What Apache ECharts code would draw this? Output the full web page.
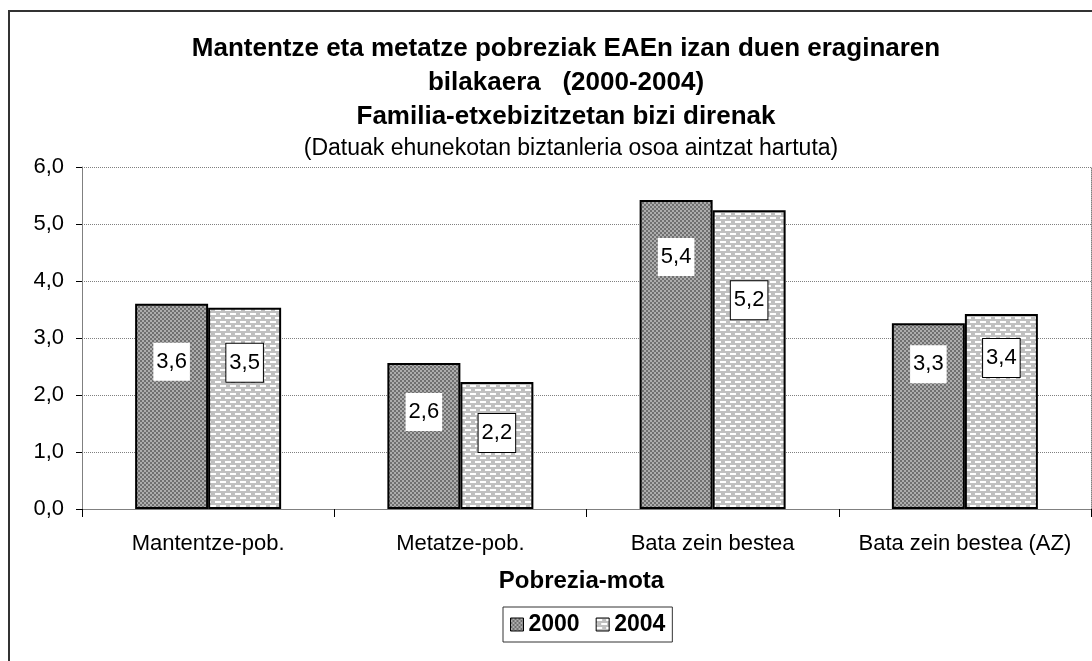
<!DOCTYPE html>
<html>
<head>
<meta charset="utf-8">
<script src="https://cdn.jsdelivr.net/npm/echarts@6/dist/echarts.min.js"></script>
<style>
  html, body { margin: 0; padding: 0; background: #fff; }
  #chart { width: 1092px; height: 661px; }
</style>
</head>
<body>
<div id="chart"></div>
<script>
// data
const categories = ['Mantentze-pob.', 'Metatze-pob.', 'Bata zein bestea', 'Bata zein bestea (AZ)'];
const seriesNames = ['2000', '2004'];
const values2000 = [3.60, 2.56, 5.42, 3.26];
const values2004 = [3.53, 2.23, 5.24, 3.42];
const yTicks = [0, 1, 2, 3, 4, 5, 6];

// label drop from bar top (px), labels were moved by hand in the original
const drop2000 = [39, 30, 38, 22];
const drop2004 = [36, 32, 71, 25];

const FONT = '"Liberation Sans", Arial, sans-serif';

/* fill patterns like the excel ones */
function checkerPattern() {
  let c = document.createElement('canvas');
  c.width = 4; c.height = 4;
  let ctx = c.getContext('2d');
  ctx.fillStyle = '#adadad';
  ctx.fillRect(0, 0, 4, 4);
  ctx.fillStyle = '#707070';
  ctx.fillRect(0, 0, 2, 2);
  ctx.fillRect(2, 2, 2, 2);
  return c;
}

function dashPattern() {
  let c = document.createElement('canvas');
  c.width = 10; c.height = 8;
  let ctx = c.getContext('2d');
  ctx.fillStyle = '#c0c0c0';
  ctx.fillRect(0, 0, 10, 8);
  ctx.fillStyle = '#ffffff';
  ctx.fillRect(0, 1, 6, 2);
  ctx.fillRect(5, 5, 5, 2);
  ctx.fillRect(0, 5, 1, 2);
  return c;
}

const fmt = v => v.toFixed(1).replace('.', ',');

function buildData(values, drops) {
  return values.map((v, i) => ({ value: v, label: { distance: drops[i] } }));
}

let chart = echarts.init(document.getElementById('chart'), null, { renderer: 'canvas' });

let labelBase = {
  show: true,
  position: 'insideTop',
  formatter: p => fmt(p.value),
  color: '#000',
  fontFamily: FONT,
  fontSize: 22,
  lineHeight: 22,
  backgroundColor: '#fff',
  padding: [8, 3]
};

let option = {
  backgroundColor: '#fff',
  animation: false,
  textStyle: { fontFamily: FONT },
  title: [{
    text: 'Mantentze eta metatze pobreziak EAEn izan duen eraginaren\nbilakaera   (2000-2004)\nFamilia-etxebizitzetan bizi direnak',
    left: 566,
    top: 32,
    textAlign: 'center',
    padding: 0,
    textStyle: { fontFamily: FONT, fontSize: 26, fontWeight: 'bold', color: '#000', lineHeight: 34 }
  }, {
    text: '(Datuak ehunekotan biztanleria osoa aintzat hartuta)',
    left: 571,
    top: 137,
    textAlign: 'center',
    padding: 0,
    textStyle: { fontFamily: FONT, fontSize: 23, fontWeight: 'normal', color: '#000', lineHeight: 23 }
  }],
  legend: {
    data: seriesNames,
    left: 503,
    top: 607,
    padding: [6, 7],
    itemGap: 16,
    itemWidth: 13,
    itemHeight: 13,
    icon: 'rect',
    borderColor: '#333',
    borderWidth: 1,
    itemStyle: { borderColor: '#000', borderWidth: 1 },
    textStyle: { fontFamily: FONT, fontSize: 23, fontWeight: 'bold', color: '#000' }
  },
  grid: { left: 82, right: 1, top: 167, bottom: 152 },
  xAxis: {
    type: 'category',
    data: categories,
    name: 'Pobrezia-mota',
    nameLocation: 'middle',
    nameGap: 60,
    nameTextStyle: { fontFamily: FONT, fontSize: 24, fontWeight: 'bold', color: '#000', padding: [0, 10, 0, 0] },
    axisLine: { show: true, lineStyle: { color: '#808080', width: 1 } },
    axisTick: { show: true, length: 8, lineStyle: { color: '#000' } },
    axisLabel: { fontFamily: FONT, fontSize: 22, color: '#000', margin: 24, interval: 0 },
    splitLine: { show: false }
  },
  yAxis: [{
    type: 'value',
    min: yTicks[0],
    max: yTicks[yTicks.length - 1],
    interval: 1,
    axisLine: { show: true, lineStyle: { color: '#808080', width: 1 } },
    axisTick: { show: true, length: 6, lineStyle: { color: '#000' } },
    axisLabel: { fontFamily: FONT, fontSize: 22, color: '#000', margin: 18, formatter: v => fmt(v) },
    splitLine: { show: true, lineStyle: { color: '#808080', type: 'dotted', width: 1 } }
  }, {
    // only to draw the dotted right edge of the plot area
    type: 'value',
    position: 'right',
    min: yTicks[0],
    max: yTicks[yTicks.length - 1],
    interval: 1,
    axisLine: { show: true, lineStyle: { color: '#808080', type: 'dotted', width: 1 } },
    axisTick: { show: false },
    axisLabel: { show: false },
    splitLine: { show: false }
  }],
  series: [{
    name: seriesNames[0],
    type: 'bar',
    barWidth: 73,
    barGap: '0%',
    data: buildData(values2000, drop2000),
    itemStyle: { color: { image: checkerPattern(), repeat: 'repeat' }, borderColor: '#000', borderWidth: 2 },
    label: labelBase
  }, {
    name: seriesNames[1],
    type: 'bar',
    barWidth: 73,
    barGap: '0%',
    data: buildData(values2004, drop2004),
    itemStyle: { color: { image: dashPattern(), repeat: 'repeat' }, borderColor: '#000', borderWidth: 2 },
    label: Object.assign({}, labelBase, { borderColor: '#000', borderWidth: 1 })
  }],
  graphic: [{
    // outer chart frame, only left and top are inside the picture
    type: 'rect',
    silent: true,
    shape: { x: 9, y: 11, width: 1200, height: 800 },
    style: { fill: null, stroke: '#333', lineWidth: 2 }
  }]
};

chart.setOption(option);
</script>
</body>
</html>
